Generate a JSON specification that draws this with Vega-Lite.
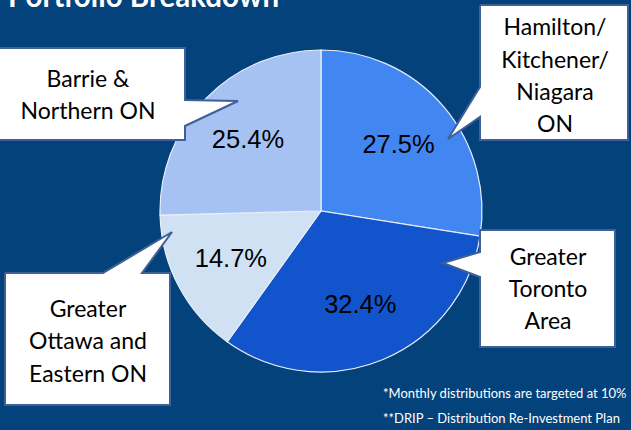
{
  "$schema": "https://vega.github.io/schema/vega-lite/v6.json",
  "width": 631,
  "height": 430,
  "autosize": {"type": "none"},
  "padding": 0,
  "background": "#03427B",
  "config": {"view": {"stroke": null}},
  "datasets": {
    "pie": [
      {"region": "Hamilton/Kitchener/Niagara ON", "value": 27.5, "k": 1, "label": "27.5%"},
      {"region": "Greater Toronto Area", "value": 32.4, "k": 2, "label": "32.4%"},
      {"region": "Greater Ottawa and Eastern ON", "value": 14.7, "k": 3, "label": "14.7%"},
      {"region": "Barrie & Northern ON", "value": 25.4, "k": 4, "label": "25.4%"}
    ],
    "boxes": [
      {"id": "B", "i": 1, "x": -3, "y": 48},
      {"id": "B", "i": 2, "x": 185, "y": 48},
      {"id": "B", "i": 3, "x": 185, "y": 100},
      {"id": "B", "i": 4, "x": 238, "y": 101},
      {"id": "B", "i": 5, "x": 185, "y": 126},
      {"id": "B", "i": 6, "x": 185, "y": 140},
      {"id": "B", "i": 7, "x": -3, "y": 140},
      {"id": "B", "i": 8, "x": -3, "y": 48},
      {"id": "H", "i": 1, "x": 480, "y": 5},
      {"id": "H", "i": 2, "x": 628, "y": 5},
      {"id": "H", "i": 3, "x": 628, "y": 140},
      {"id": "H", "i": 4, "x": 480, "y": 140},
      {"id": "H", "i": 5, "x": 480, "y": 117},
      {"id": "H", "i": 6, "x": 448, "y": 139},
      {"id": "H", "i": 7, "x": 480, "y": 87},
      {"id": "H", "i": 8, "x": 480, "y": 5},
      {"id": "T", "i": 1, "x": 480, "y": 230},
      {"id": "T", "i": 2, "x": 615, "y": 230},
      {"id": "T", "i": 3, "x": 615, "y": 347},
      {"id": "T", "i": 4, "x": 480, "y": 347},
      {"id": "T", "i": 5, "x": 480, "y": 277},
      {"id": "T", "i": 6, "x": 443, "y": 263},
      {"id": "T", "i": 7, "x": 480, "y": 252},
      {"id": "T", "i": 8, "x": 480, "y": 230},
      {"id": "O", "i": 1, "x": 5, "y": 273},
      {"id": "O", "i": 2, "x": 103, "y": 273},
      {"id": "O", "i": 3, "x": 172, "y": 232},
      {"id": "O", "i": 4, "x": 142, "y": 273},
      {"id": "O", "i": 5, "x": 170, "y": 273},
      {"id": "O", "i": 6, "x": 170, "y": 405},
      {"id": "O", "i": 7, "x": 5, "y": 405},
      {"id": "O", "i": 8, "x": 5, "y": 273}
    ],
    "boxtext": [
      {"t": "Barrie &", "x": 88, "y": 80},
      {"t": "Northern ON", "x": 88, "y": 112},
      {"t": "Hamilton/", "x": 555, "y": 28},
      {"t": "Kitchener/", "x": 555, "y": 61},
      {"t": "Niagara", "x": 555, "y": 93},
      {"t": "ON", "x": 555, "y": 125},
      {"t": "Greater", "x": 548, "y": 258},
      {"t": "Toronto", "x": 548, "y": 290},
      {"t": "Area", "x": 548, "y": 322},
      {"t": "Greater", "x": 88, "y": 310},
      {"t": "Ottawa and", "x": 88, "y": 342},
      {"t": "Eastern ON", "x": 88, "y": 375}
    ],
    "notes": [
      {"t": "*Monthly distributions are targeted at 10%", "x": 383, "y": 394},
      {"t": "**DRIP – Distribution Re-Investment Plan", "x": 383, "y": 419}
    ],
    "title": [
      {"t": "Portfolio Breakdown", "x": 8, "y": 7}
    ]
  },
  "layer": [
    {
      "data": {"name": "pie"},
      "mark": {"type": "arc", "outerRadius": 161, "stroke": "#E8EEF8", "strokeWidth": 1.2},
      "encoding": {
        "theta": {"field": "value", "type": "quantitative", "stack": true},
        "order": {"field": "k", "type": "quantitative"},
        "color": {
          "field": "region", "type": "nominal", "legend": null,
          "scale": {
            "domain": ["Hamilton/Kitchener/Niagara ON", "Greater Toronto Area", "Greater Ottawa and Eastern ON", "Barrie & Northern ON"],
            "range": ["#4286F1", "#1254CB", "#CFE1F3", "#A5C2F2"]
          }
        },
        "x": {"datum": 321, "type": "quantitative", "scale": {"domain": [0, 631], "nice": false, "zero": false}, "axis": null},
        "y": {"datum": 211, "type": "quantitative", "scale": {"domain": [0, 430], "nice": false, "zero": false, "reverse": true}, "axis": null}
      }
    },
    {
      "data": {"name": "pie"},
      "mark": {"type": "text", "radius": 102, "font": "Liberation Sans", "fontSize": 25.5, "fill": "#000000", "align": "center", "baseline": "middle"},
      "encoding": {
        "theta": {"field": "value", "type": "quantitative", "stack": true},
        "order": {"field": "k", "type": "quantitative"},
        "text": {"field": "label"},
        "x": {"datum": 321, "type": "quantitative", "scale": {"domain": [0, 631], "nice": false, "zero": false}, "axis": null},
        "y": {"datum": 211, "type": "quantitative", "scale": {"domain": [0, 430], "nice": false, "zero": false, "reverse": true}, "axis": null}
      }
    },
    {
      "data": {"name": "boxes"},
      "mark": {"type": "line", "fill": "#FFFFFF", "stroke": "#3F5F98", "strokeWidth": 2, "strokeJoin": "miter"},
      "encoding": {
        "detail": {"field": "id", "type": "nominal"},
        "order": {"field": "i", "type": "quantitative"},
        "x": {"field": "x", "type": "quantitative", "scale": {"domain": [0, 631], "nice": false, "zero": false}, "axis": null},
        "y": {"field": "y", "type": "quantitative", "scale": {"domain": [0, 430], "nice": false, "zero": false, "reverse": true}, "axis": null}
      }
    },
    {
      "data": {"name": "boxtext"},
      "mark": {"type": "text", "font": "Lato", "fontSize": 23, "fill": "#000000", "align": "center", "baseline": "middle"},
      "encoding": {
        "text": {"field": "t"},
        "x": {"field": "x", "type": "quantitative", "scale": {"domain": [0, 631], "nice": false, "zero": false}, "axis": null},
        "y": {"field": "y", "type": "quantitative", "scale": {"domain": [0, 430], "nice": false, "zero": false, "reverse": true}, "axis": null}
      }
    },
    {
      "data": {"name": "notes"},
      "mark": {"type": "text", "font": "Lato", "fontSize": 13, "fill": "#FFFFFF", "align": "left", "baseline": "middle"},
      "encoding": {
        "text": {"field": "t"},
        "x": {"field": "x", "type": "quantitative", "scale": {"domain": [0, 631], "nice": false, "zero": false}, "axis": null},
        "y": {"field": "y", "type": "quantitative", "scale": {"domain": [0, 430], "nice": false, "zero": false, "reverse": true}, "axis": null}
      }
    },
    {
      "data": {"name": "title"},
      "mark": {"type": "text", "font": "Lato", "fontSize": 29.5, "fontWeight": "bold", "fill": "#FFFFFF", "align": "left", "baseline": "alphabetic"},
      "encoding": {
        "text": {"field": "t"},
        "x": {"field": "x", "type": "quantitative", "scale": {"domain": [0, 631], "nice": false, "zero": false}, "axis": null},
        "y": {"field": "y", "type": "quantitative", "scale": {"domain": [0, 430], "nice": false, "zero": false, "reverse": true}, "axis": null}
      }
    }
  ]
}
